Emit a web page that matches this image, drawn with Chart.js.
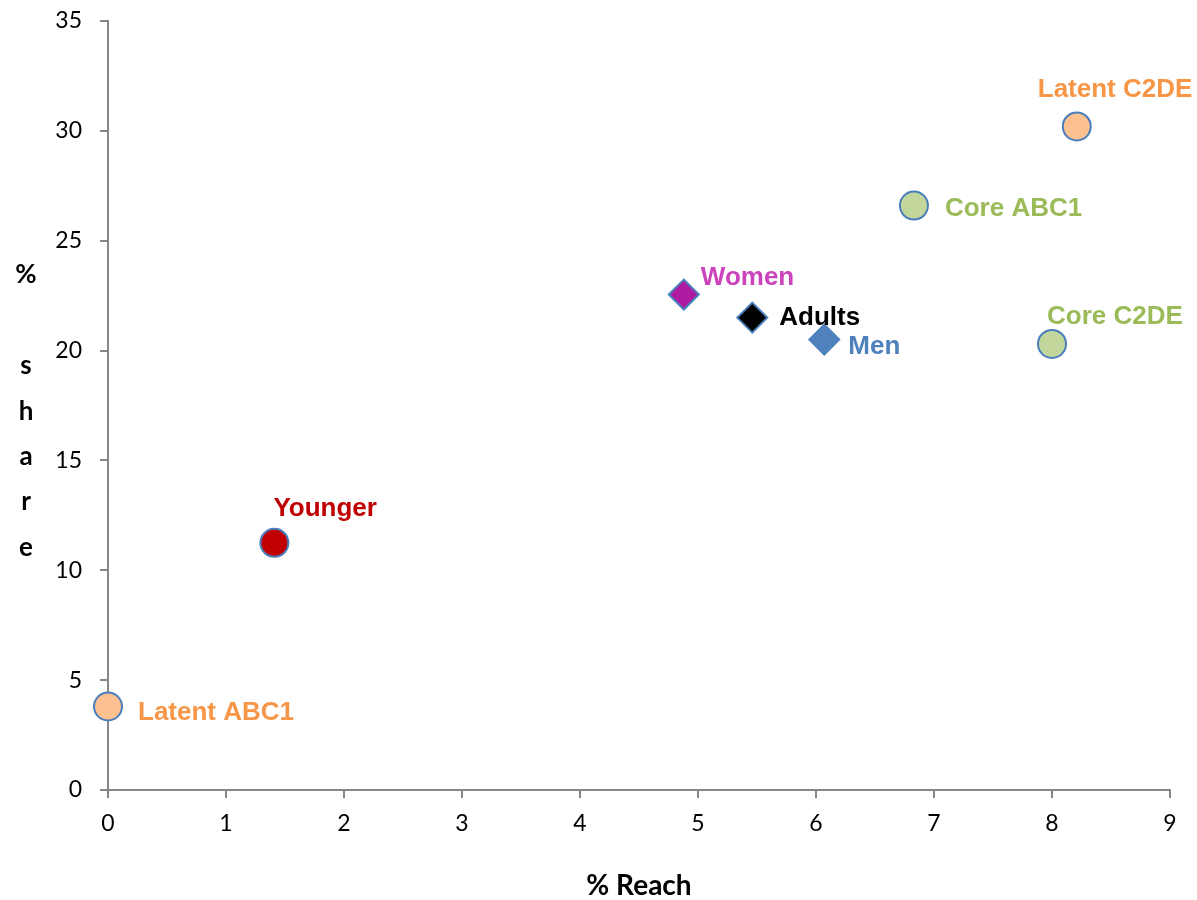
<!DOCTYPE html>
<html>
<head>
<meta charset="utf-8">
<title>% Reach vs % share</title>
<script src="https://cdn.jsdelivr.net/npm/chart.js@4.4.1/dist/chart.umd.min.js"></script>
<style>
  html, body { margin: 0; padding: 0; background: #ffffff; }
  #wrap { width: 1197px; height: 900px; position: relative; }
</style>
</head>
<body>
<div id="wrap"><canvas id="chart" width="1197" height="900"></canvas></div>
<script>
// Audience segments: reach (%) against share (%)
const segments   = ['Latent ABC1', 'Younger', 'Women', 'Adults', 'Men', 'Core ABC1', 'Core C2DE', 'Latent C2DE'];
const reach      = [0, 1.41, 4.88, 5.46, 6.07, 6.83, 8.00, 8.21];
const share      = [3.8, 11.25, 22.55, 21.5, 20.5, 26.6, 20.3, 30.2];
const xTicks     = [0, 1, 2, 3, 4, 5, 6, 7, 8, 9];
const yTicks     = [0, 5, 10, 15, 20, 25, 30, 35];

// Marker and label styling per segment
const markerShape = ['circle', 'circle', 'rectRot', 'rectRot', 'rectRot', 'circle', 'circle', 'circle'];
const markerFill  = ['#FAC090', '#C00000', '#AE1AA0', '#000000', '#4F81BD', '#C3D69B', '#C3D69B', '#FAC090'];
const labelColour = ['#F79646', '#C00000', '#CC44BB', '#000000', '#4F81BD', '#9BBB59', '#9BBB59', '#F79646'];
// Label anchor relative to the marker centre (left edge, vertical middle)
const labelShift  = [[30, 6], [-1, -34], [17, -17], [27, 0], [24, 7], [31, 3], [-5, -27], [-39, -37]];

const AXIS_GREY = '#868686';
const TICK_FONT = { family: 'Lato, "Liberation Sans", sans-serif', size: 23 };
const TITLE_FONT = { family: 'Lato, "Liberation Sans", sans-serif', size: 28, weight: 'bold', lineHeight: 1 };

const datasets = segments.map((name, i) => ({
  label: name,
  data: [{ x: reach[i], y: share[i] }],
  pointStyle: markerShape[i],
  pointRadius: markerShape[i] === 'circle' ? 14 : 15,
  pointHoverRadius: markerShape[i] === 'circle' ? 14 : 15,
  backgroundColor: markerFill[i],
  borderColor: i === 4 ? '#4F81BD' : '#4A7EBB',
  pointBorderWidth: 2,
  showLine: false,
  clip: false
}));

// Segment names beside each marker
const pointLabels = {
  id: 'pointLabels',
  afterDatasetsDraw(chart) {
    const ctx = chart.ctx;
    ctx.save();
    ctx.font = 'bold 26px "Liberation Sans", Arial, sans-serif';
    ctx.textAlign = 'left';
    ctx.textBaseline = 'middle';
    chart.data.datasets.forEach((ds, i) => {
      const el = chart.getDatasetMeta(i).data[0];
      if (!el) return;
      ctx.fillStyle = labelColour[i];
      ctx.fillText(ds.label, el.x + labelShift[i][0], el.y + labelShift[i][1]);
    });
    ctx.restore();
  }
};

// Vertical, letter-by-letter y-axis title
const stackedYTitle = {
  id: 'stackedYTitle',
  afterDraw(chart) {
    const ctx = chart.ctx;
    const lines = ['%', '', 's', 'h', 'a', 'r', 'e'];
    ctx.save();
    ctx.font = 'bold 26px Lato, "Liberation Sans", sans-serif';
    ctx.fillStyle = '#000000';
    ctx.textAlign = 'center';
    ctx.textBaseline = 'middle';
    lines.forEach((ch, k) => {
      if (ch) ctx.fillText(ch, 26, 275 + k * 45.4);
    });
    ctx.restore();
  }
};

new Chart(document.getElementById('chart'), {
  type: 'scatter',
  data: { datasets },
  options: {
    responsive: false,
    animation: false,
    layout: { padding: { left: 0, right: 27, top: 21, bottom: 0 } },
    plugins: {
      legend: { display: false },
      tooltip: { enabled: false }
    },
    scales: {
      x: {
        type: 'linear',
        min: xTicks[0],
        max: xTicks[xTicks.length - 1],
        afterBuildTicks: s => { s.ticks = xTicks.map(v => ({ value: v })); },
        afterFit: s => { s.height = 110; s.paddingLeft = 0; s.paddingRight = 0; },
        border: { display: true, color: AXIS_GREY, width: 2 },
        grid: { display: true, drawOnChartArea: false, drawTicks: true, tickLength: 8, color: AXIS_GREY, lineWidth: 2 },
        ticks: { color: '#000000', font: TICK_FONT, padding: 12, maxRotation: 0 },
        title: { display: true, text: '% Reach', color: '#000000', font: TITLE_FONT, padding: { top: 0, bottom: 0 } }
      },
      y: {
        type: 'linear',
        min: yTicks[0],
        max: yTicks[yTicks.length - 1],
        afterBuildTicks: s => { s.ticks = yTicks.map(v => ({ value: v })); },
        afterFit: s => { s.width = 108; s.paddingTop = 0; s.paddingBottom = 0; },
        border: { display: true, color: AXIS_GREY, width: 2 },
        grid: { display: true, drawOnChartArea: false, drawTicks: true, tickLength: 8, color: AXIS_GREY, lineWidth: 2 },
        ticks: { color: '#000000', font: TICK_FONT, padding: 18 },
        title: { display: false }
      }
    }
  },
  plugins: [pointLabels, stackedYTitle]
});
</script>
</body>
</html>
